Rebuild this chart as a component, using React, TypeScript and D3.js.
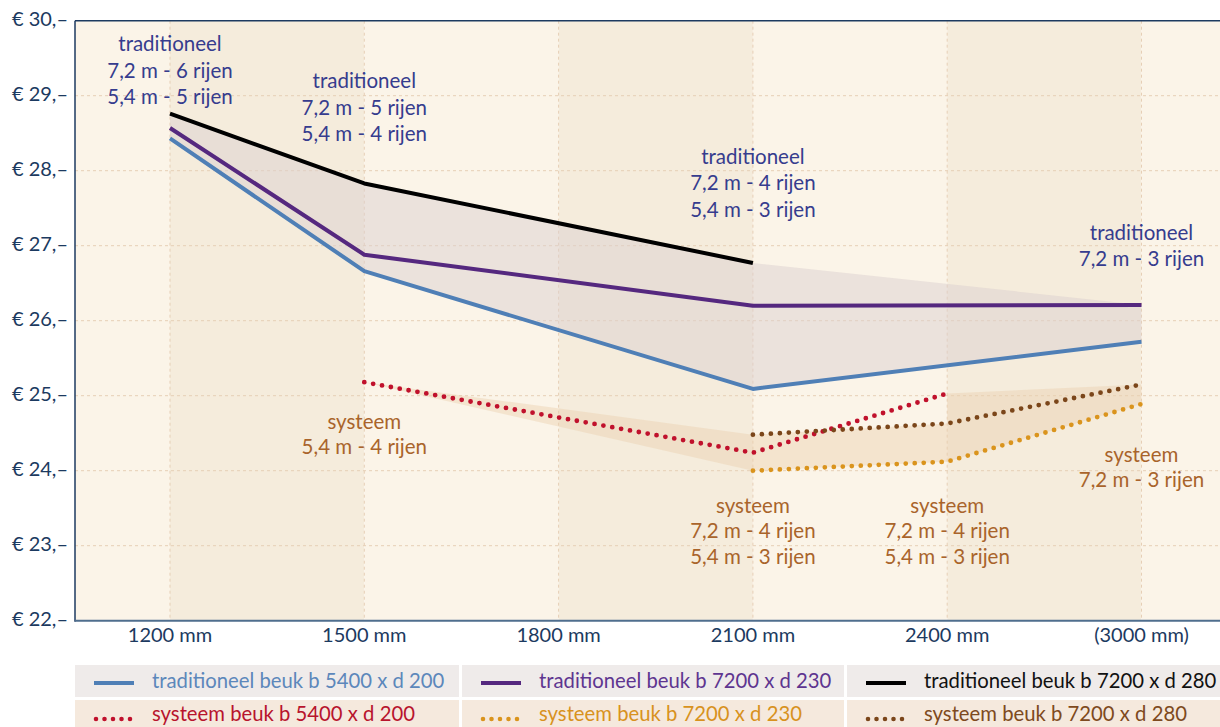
import React from "react";
import * as d3 from "d3";

const categories = ["1200 mm", "1500 mm", "1800 mm", "2100 mm", "2400 mm", "(3000 mm)"];
const yTicks = [22, 23, 24, 25, 26, 27, 28, 29, 30];

// values per category (null = no value)
const tradB5400 = [28.43, 26.66, null, 25.09, null, 25.72];
const tradB7200d230 = [28.57, 26.88, null, 26.2, null, 26.21];
const tradB7200d280 = [28.76, 27.83, null, 26.77, null, null];
const sysB5400 = [null, 25.18, null, 24.24, 25.03, null];
const sysB7200d230 = [null, null, null, 24.0, 24.12, 24.89];
const sysB7200d280 = [null, null, null, 24.48, 24.63, 25.15];

const seriesNames = [
  "traditioneel beuk b 5400 x d 200",
  "traditioneel beuk b 7200 x d 230",
  "traditioneel beuk b 7200 x d 280",
  "systeem beuk b 5400 x d 200",
  "systeem beuk b 7200 x d 230",
  "systeem beuk b 7200 x d 280",
];
const seriesValues = [tradB5400, tradB7200d230, tradB7200d280, sysB5400, sysB7200d230, sysB7200d280];
const seriesColors = ["#4f7fb6", "#55287f", "#000000", "#c0112c", "#da941d", "#7b461a"];
const legendTextColors = ["#5c87bb", "#5e3590", "#111111", "#b8142d", "#d8921e", "#7e4a20"];
const seriesDotted = [false, false, false, true, true, true];

const tradAnnotations = [
  { cat: "1200 mm", value: 29.66, lines: ["traditioneel", "7,2 m - 6 rijen", "5,4 m - 5 rijen"] },
  { cat: "1500 mm", value: 29.17, lines: ["traditioneel", "7,2 m - 5 rijen", "5,4 m - 4 rijen"] },
  { cat: "2100 mm", value: 28.16, lines: ["traditioneel", "7,2 m - 4 rijen", "5,4 m - 3 rijen"] },
  { cat: "(3000 mm)", value: 27.15, lines: ["traditioneel", "7,2 m - 3 rijen"] },
];
const sysAnnotations = [
  { cat: "1500 mm", value: 24.63, lines: ["systeem", "5,4 m - 4 rijen"] },
  { cat: "2100 mm", value: 23.51, lines: ["systeem", "7,2 m - 4 rijen", "5,4 m - 3 rijen"] },
  { cat: "2400 mm", value: 23.51, lines: ["systeem", "7,2 m - 4 rijen", "5,4 m - 3 rijen"] },
  { cat: "(3000 mm)", value: 24.19, lines: ["systeem", "7,2 m - 3 rijen"] },
];

const W = 1220;
const H = 727;
const plotLeft = 75;
const plotTop = 20.7;
const plotBottom = 620.7;
const FONT = "Lato, 'Open Sans', sans-serif";

export default function App() {
  const x = d3.scalePoint<string>().domain(categories).range([170, 1141.5]);
  const y = d3.scaleLinear().domain([22, 30]).range([plotBottom, plotTop]);

  const edges = [plotLeft, ...categories.map((c) => x(c) as number), W];
  const bands = edges.slice(0, -1).map((e, i) => ({ x0: e, x1: edges[i + 1], dark: i % 2 === 1 }));

  const line = d3
    .line<[string, number]>()
    .x((d) => x(d[0]) as number)
    .y((d) => y(d[1]));

  const tradTop: [string, number][] = [
    [categories[0], tradB7200d280[0] as number],
    [categories[1], tradB7200d280[1] as number],
    [categories[3], tradB7200d280[3] as number],
    [categories[5], tradB7200d230[5] as number],
  ];
  const tradBottom: [string, number][] = [
    [categories[5], tradB5400[5] as number],
    [categories[3], tradB5400[3] as number],
    [categories[1], tradB5400[1] as number],
    [categories[0], tradB5400[0] as number],
  ];
  const tradPoly = [...tradTop, ...tradBottom].map(([c, v]) => [x(c) as number, y(v)]);

  const sysTop: [string, number][] = [
    [categories[1], sysB5400[1] as number],
    [categories[3], sysB7200d280[3] as number],
    [categories[4], sysB7200d280[4] as number],
    [categories[4], sysB5400[4] as number],
    [categories[5], sysB7200d280[5] as number],
  ];
  const sysBottom: [string, number][] = [
    [categories[5], sysB7200d230[5] as number],
    [categories[4], sysB7200d230[4] as number],
    [categories[3], sysB7200d230[3] as number],
    [categories[1], sysB5400[1] as number],
  ];
  const sysPoly = [...sysTop, ...sysBottom].map(([c, v]) => [x(c) as number, y(v)]);
  const polyPath = (pts: number[][]) => "M" + pts.map((p) => p.join(",")).join("L") + "Z";

  const legendCols = [
    [75, 459],
    [462, 844],
    [847, 1220],
  ];
  const legendRows = [
    { y0: 665, y1: 697, fill: "#efebea", ty: 683, sy: 683 },
    { y0: 700, y1: 727, fill: "#f5e9dd", ty: 716, sy: 719 },
  ];

  return (
    <svg
      width={W}
      height={H}
      style={{ position: "absolute", left: 0, top: 0, background: "#ffffff" }}
      fontFamily={FONT}
    >
      {bands.map((b, i) => (
        <rect
          key={i}
          x={b.x0}
          y={plotTop}
          width={b.x1 - b.x0}
          height={plotBottom - plotTop}
          fill={b.dark ? "#f5ecdc" : "#fbf4e8"}
        />
      ))}
      {yTicks.slice(1, -1).map((t) => (
        <line key={t} x1={plotLeft} x2={W} y1={y(t)} y2={y(t)} stroke="#e6cfb6" strokeDasharray="3 3" strokeWidth={1} />
      ))}
      {categories.map((c) => (
        <line key={c} x1={x(c)} x2={x(c)} y1={plotTop} y2={plotBottom} stroke="#e6cfb6" strokeDasharray="3 3" strokeWidth={1} />
      ))}

      <path d={polyPath(tradPoly)} fill="#dcd0d0" opacity={0.5} />
      <path d={polyPath(sysPoly)} fill="#ecd0b0" opacity={0.45} />

      {seriesValues.map((vals, i) => {
        const pts = categories
          .map((c, j) => [c, vals[j]] as [string, number | null])
          .filter((d) => d[1] != null) as [string, number][];
        return (
          <path
            key={i}
            d={line(pts) || ""}
            fill="none"
            stroke={seriesColors[i]}
            strokeWidth={seriesDotted[i] ? 4.8 : 4}
            strokeLinecap={seriesDotted[i] ? "round" : "butt"}
            strokeLinejoin="round"
            strokeDasharray={seriesDotted[i] ? "0 9" : undefined}
          />
        );
      })}

      <line x1={plotLeft} x2={W} y1={plotTop} y2={plotTop} stroke="#1c3a60" strokeWidth={1.5} />
      <line x1={plotLeft} x2={plotLeft} y1={plotTop} y2={plotBottom + 1} stroke="#1c3a60" strokeWidth={1.5} />
      <line x1={plotLeft} x2={W} y1={plotBottom} y2={plotBottom} stroke="#4f6e8e" strokeWidth={2} />

      {yTicks.map((t) => (
        <text key={t} x={68} y={y(t)} textAnchor="end" dominantBaseline="middle" fontSize={20} fill="#1c3a60">
          {"€ " + t + ",–"}
        </text>
      ))}
      {categories.map((c) => (
        <text key={c} x={x(c)} y={637} textAnchor="middle" dominantBaseline="middle" fontSize={20} fill="#1c3a60">
          {c}
        </text>
      ))}

      {tradAnnotations.map((a, i) =>
        a.lines.map((l, k) => (
          <text
            key={i + "-" + k}
            x={x(a.cat)}
            y={y(a.value) + k * 26.5}
            textAnchor="middle"
            dominantBaseline="middle"
            fontSize={20.5}
            fill="#363c8e"
          >
            {l}
          </text>
        ))
      )}
      {sysAnnotations.map((a, i) =>
        a.lines.map((l, k) => (
          <text
            key={i + "-" + k}
            x={x(a.cat)}
            y={y(a.value) + k * 25.5}
            textAnchor="middle"
            dominantBaseline="middle"
            fontSize={20.5}
            fill="#a9642b"
          >
            {l}
          </text>
        ))
      )}

      {legendRows.map((r, ri) =>
        legendCols.map((col, ci) => {
          const si = ri * 3 + ci;
          return (
            <g key={ri + "-" + ci}>
              <rect x={col[0]} y={r.y0} width={col[1] - col[0]} height={r.y1 - r.y0} fill={r.fill} />
              <line
                x1={col[0] + (seriesDotted[si] ? 21 : 19)}
                x2={col[0] + 59}
                y1={r.sy}
                y2={r.sy}
                stroke={seriesColors[si]}
                strokeWidth={seriesDotted[si] ? 4.6 : 4}
                strokeLinecap={seriesDotted[si] ? "round" : "butt"}
                strokeDasharray={seriesDotted[si] ? "0 8.5" : undefined}
              />
              <text x={col[0] + 77} y={r.ty} dominantBaseline="middle" fontSize={20.3} fill={legendTextColors[si]}>
                {seriesNames[si]}
              </text>
            </g>
          );
        })
      )}
    </svg>
  );
}
